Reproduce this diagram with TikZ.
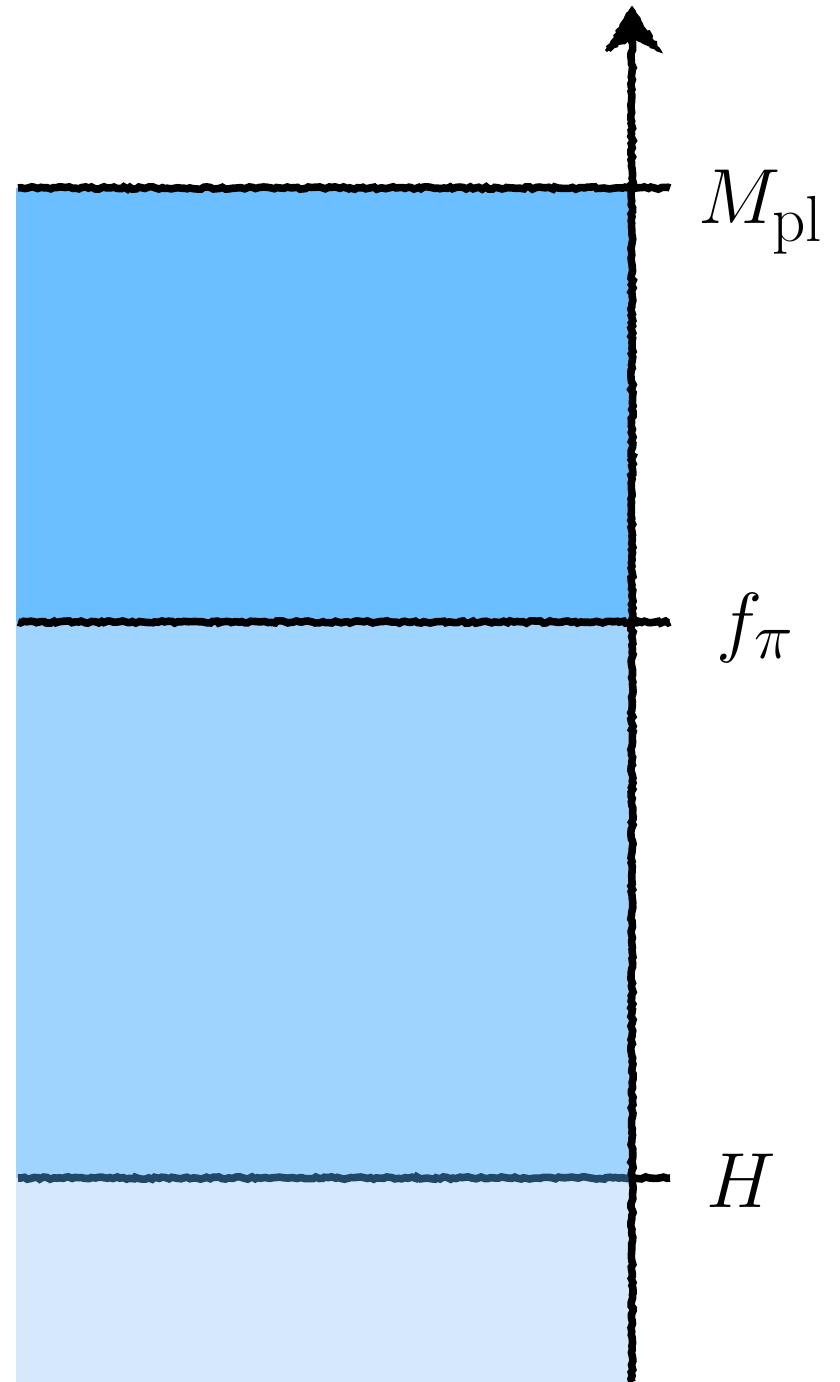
\documentclass[tikz,border=0pt]{standalone}
\usetikzlibrary{decorations.pathmorphing}
\definecolor{cA}{RGB}{107,191,255}
\definecolor{cB}{RGB}{158,212,255}
\definecolor{cC}{RGB}{213,232,252}
\definecolor{cH}{RGB}{32,72,104}
\newcommand{\biglbl}[1]{\scalebox{1.57}{\fontsize{24.88}{30}\selectfont #1}}
\begin{document}
\begin{tikzpicture}[x=0.5pt,y=-0.5pt,
  rough/.style={decorate,decoration={random steps,segment length=1.6pt,amplitude=0.6pt},line width=3.8pt},
  lbl/.style={anchor=base west,inner sep=0pt}]
\pgfmathsetseed{7}
\useasboundingbox (0,0) rectangle (840,1382);
% fills
\fill[cA] (16,188) rectangle (632,622);
\fill[cB] (16,622) rectangle (632,1178);
\fill[cC] (16,1178) rectangle (632,1382);
% coordinates
\coordinate (mL) at (18,188); \coordinate (mR) at (670,188);
\coordinate (fL) at (18,622); \coordinate (fR) at (670,622);
\coordinate (hL) at (18,1178); \coordinate (hM) at (632,1178); \coordinate (hR) at (670,1178);
\coordinate (ax0) at (632,1382); \coordinate (ax1) at (632,30);
% level lines
\draw[rough] (mL) -- (mR);
\draw[rough] (fL) -- (fR);
\draw[rough,cH] (hL) -- (hM);
\draw[rough] (hM) -- (hR);
% axis
\draw[rough] (ax0) -- (ax1);
\filldraw[decorate,decoration={random steps,segment length=1.5pt,amplitude=0.7pt},line width=1.4pt]
  (632,8) -- (660,51) -- (632,38) -- (606,51) -- cycle;
% labels
\node[lbl] (Mpl) at (698,223) {\biglbl{$M_{\mathrm{pl}}$}};
\node[lbl] (fpi) at (716,647) {\biglbl{$f_\pi$}};
\node[lbl] (H) at (706,1207) {\biglbl{$H$}};
\end{tikzpicture}
\end{document}
